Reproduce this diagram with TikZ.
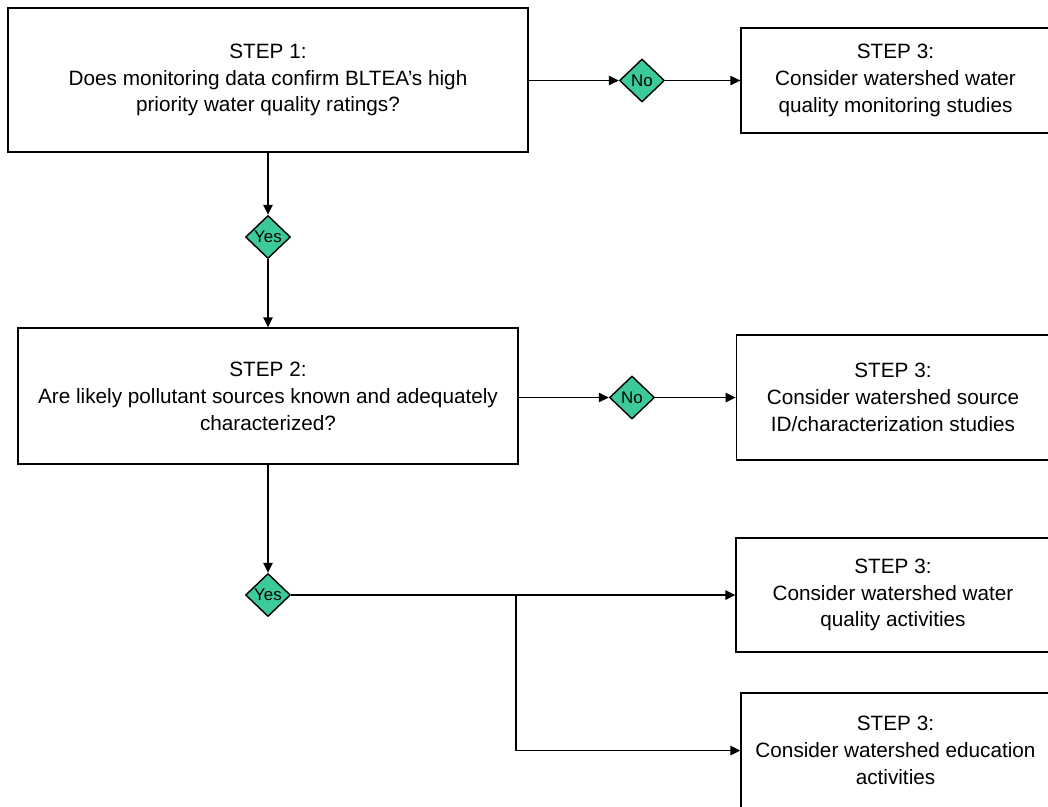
\documentclass[tikz,border=0pt]{standalone}
\usepackage{fontspec}
\setmainfont{Liberation Sans}
\usetikzlibrary{shapes.geometric, arrows.meta}
\definecolor{answergreen}{HTML}{3CCB98}
\tikzset{
  stepbox/.style={draw, align=center, inner sep=0pt, font=\fontsize{11.8}{15.3}\selectfont},
  answer/.style={draw, diamond, fill=answergreen, inner sep=0pt, minimum width=0.9cm, minimum height=0.86cm, font=\fontsize{9.6}{10}\selectfont}
}
\begin{document}
\begin{tikzpicture}[x=0.02cm, y=-0.02cm, line width=0.8pt, >={Triangle[length=0.2cm, width=0.19cm]}]
  \useasboundingbox (0,0) rectangle (1048,806);
  \clip (0,0) rectangle (1048,806);
  \node[stepbox, minimum width=10.4cm, minimum height=2.88cm] (s1) at (268,80)
    {STEP 1:\\ Does monitoring data confirm BLTEA’s high\\ priority water quality ratings?};
  \node[stepbox, minimum width=10cm, minimum height=2.72cm] (s2) at (268,396)
    {STEP 2:\\ Are likely pollutant sources known and adequately\\ characterized?};
  \node[stepbox, minimum width=6.18cm, minimum height=2.1cm] (s3mon) at (895.5,80.5)
    {STEP 3:\\ Consider watershed water\\ quality monitoring studies};
  \node[stepbox, minimum width=6.27cm, minimum height=2.5cm] (s3src) at (893,397.5)
    {STEP 3:\\ Consider watershed source\\ ID/characterization studies};
  \node[stepbox, minimum width=6.28cm, minimum height=2.28cm] (s3act) at (893,595)
    {STEP 3:\\ Consider watershed water\\ quality activities};
  \node[stepbox, minimum width=6.18cm, minimum height=2.3cm] (s3edu) at (895.5,750.5)
    {STEP 3:\\ Consider watershed education\\ activities};
  \node[answer] (no1) at (642,80.5) {No};
  \node[answer] (yes1) at (268,237) {Yes};
  \node[answer] (no2) at (632,397.5) {No};
  \node[answer] (yes2) at (268,595) {Yes};
  \coordinate (fork) at (516,595);
  \draw[->] (s1.east |- no1) -- (no1);
  \draw[->] (no1) -- (s3mon);
  \draw[->] (s1) -- (yes1);
  \draw[->] (yes1) -- (s2);
  \draw[->] (s2.east |- no2) -- (no2);
  \draw[->] (no2) -- (s3src);
  \draw[->] (s2) -- (yes2);
  \draw[->] (yes2) -- (s3act);
  \draw[->] (fork) |- (s3edu.west);
\end{tikzpicture}
\end{document}
